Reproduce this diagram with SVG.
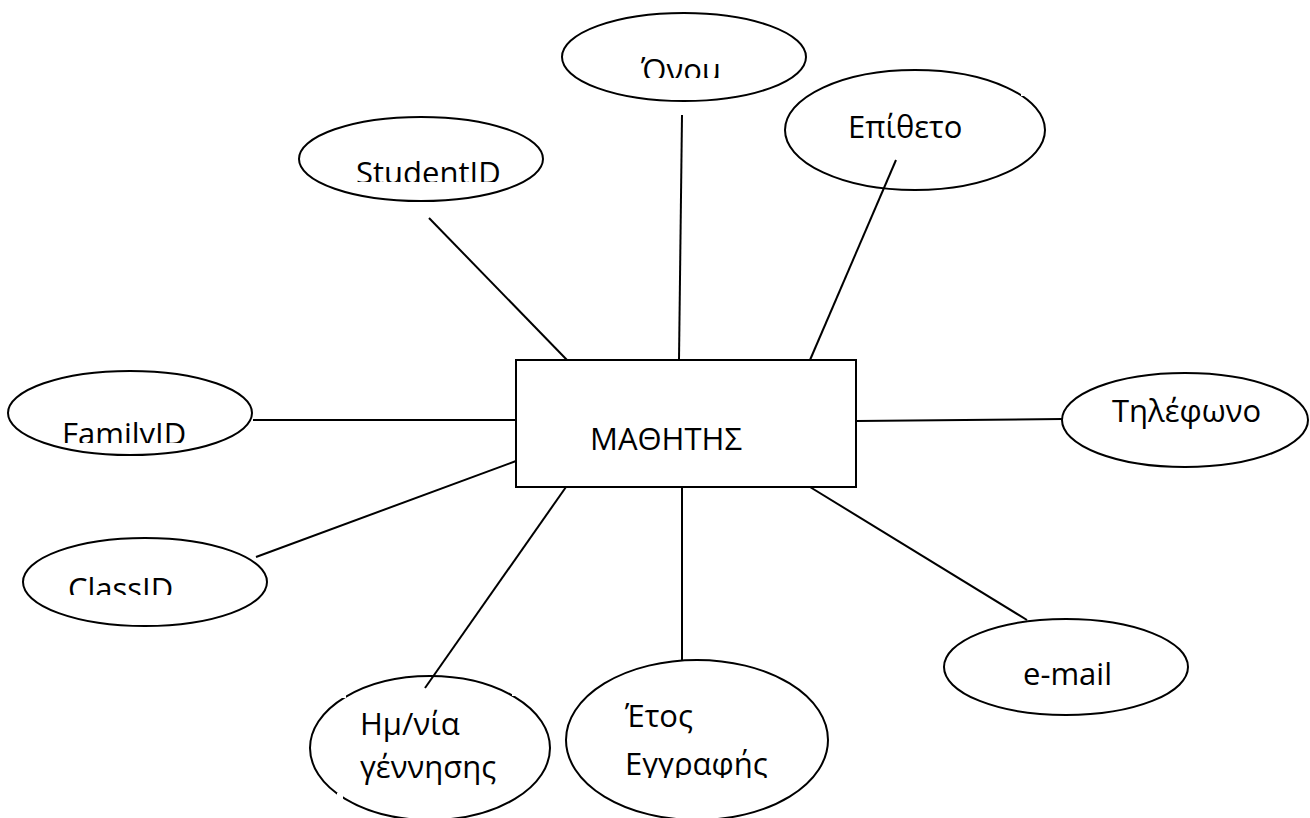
<svg xmlns="http://www.w3.org/2000/svg" width="1310" height="818" viewBox="0 0 1310 818">
  <style>
    .shape { fill: none; stroke: #000; stroke-width: 2; }
    .link { stroke: #000; stroke-width: 2; fill: none; }
    .label { font-family: "Open Sans", "Noto Sans", "DejaVu Sans", sans-serif; font-size: 31px; fill: #000; }
    .gap { fill: #fff; stroke: none; }
  </style>
  <defs>
    <clipPath id="clip-onoma"><rect x="560" y="40" width="250" height="38"/></clipPath>
    <clipPath id="clip-studentid"><rect x="300" y="140" width="245" height="42"/></clipPath>
    <clipPath id="clip-familyid"><rect x="8" y="395" width="245" height="48"/></clipPath>
    <clipPath id="clip-classid"><rect x="23" y="555" width="245" height="40"/></clipPath>
    <clipPath id="clip-etos"><rect x="566" y="690" width="262" height="88"/></clipPath>
  </defs>
  <rect width="1310" height="818" fill="#fff"/>

  <!-- connectors between the entity and its attributes -->
  <g id="connectors">
    <line class="link" x1="429" y1="218" x2="567" y2="360"/>
    <line class="link" x1="682" y1="115" x2="679" y2="360"/>
    <line class="link" x1="896" y1="160" x2="810" y2="360"/>
    <line class="link" x1="857" y1="421" x2="1062" y2="419"/>
    <line class="link" x1="253" y1="420" x2="516" y2="420"/>
    <line class="link" x1="516" y1="461" x2="256" y2="557"/>
    <line class="link" x1="566" y1="487" x2="425" y2="688"/>
    <line class="link" x1="682" y1="487" x2="682" y2="660"/>
    <line class="link" x1="810" y1="487" x2="1027" y2="620"/>
  </g>

  <!-- entity -->
  <g id="mathitis">
    <rect class="shape" x="516" y="360" width="340" height="127"/>
    <text class="label" x="590" y="450">ΜΑΘΗΤΗΣ</text>
  </g>

  <!-- attributes -->
  <g id="onoma">
    <ellipse class="shape" cx="684" cy="57" rx="122" ry="44"/>
    <text class="label" x="641" y="81" clip-path="url(#clip-onoma)">Όνομ</text>
  </g>

  <g id="studentid">
    <ellipse class="shape" cx="421" cy="159" rx="122" ry="42"/>
    <text class="label" x="356" y="184" clip-path="url(#clip-studentid)">StudentID</text>
  </g>

  <g id="epitheto">
    <ellipse class="shape" cx="915" cy="130" rx="130" ry="60"/>
    <rect class="gap" x="1021" y="88" width="6" height="8"/>
    <text class="label" x="848" y="138">Επίθετο</text>
  </g>

  <g id="familyid">
    <ellipse class="shape" cx="130" cy="413" rx="122" ry="42"/>
    <rect class="gap" x="227" y="440" width="6" height="6"/>
    <text class="label" x="62" y="445" clip-path="url(#clip-familyid)">FamilyID</text>
  </g>

  <g id="tilefono">
    <ellipse class="shape" cx="1185" cy="420" rx="123" ry="47"/>
    <rect class="gap" x="1090" y="375" width="6" height="6"/>
    <rect class="gap" x="1280" y="377" width="12" height="10"/>
    <text class="label" x="1112" y="422">Τηλέφωνο</text>
  </g>

  <g id="classid">
    <ellipse class="shape" cx="145" cy="582" rx="122" ry="44"/>
    <text class="label" x="68" y="600" clip-path="url(#clip-classid)">ClassID</text>
  </g>

  <g id="hmnia">
    <ellipse class="shape" cx="430" cy="748" rx="120" ry="72"/>
    <rect class="gap" x="338" y="690" width="8" height="8"/>
    <rect class="gap" x="512" y="690" width="6" height="6"/>
    <rect class="gap" x="337" y="793" width="6" height="6"/>
    <text class="label" x="360" y="735">Ημ/νία</text>
    <text class="label" x="360" y="778">γέννησης</text>
  </g>

  <g id="etos">
    <ellipse class="shape" cx="697" cy="740" rx="131" ry="80"/>
    <text class="label" x="625" y="727">Έτος</text>
    <text class="label" x="625" y="775" clip-path="url(#clip-etos)">Εγγραφής</text>
  </g>

  <g id="email">
    <ellipse class="shape" cx="1066" cy="667" rx="122" ry="48"/>
    <text class="label" x="1023" y="685">e-mail</text>
  </g>
</svg>
